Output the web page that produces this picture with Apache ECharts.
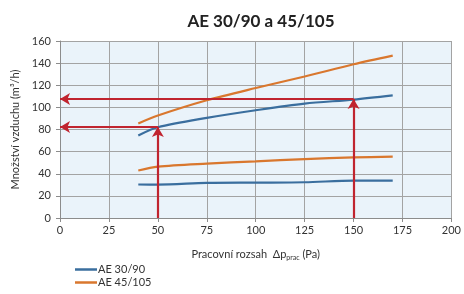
<!DOCTYPE html>
<html>
  <head>
    <meta charset="utf-8">
    <title>AE 30/90 a 45/105</title>
    <script src="https://cdn.jsdelivr.net/npm/echarts@6/dist/echarts.min.js"></script>
    <style type="text/css">
      html, body { margin: 0; padding: 0; background: #fff; }
      #main { width: 464px; height: 294px; }
    </style>
  </head>
  <body>
    <div id="main"></div>
    <script type="text/javascript">
      // tlaková diference (Pa)
      var pressure = [40, 50, 75, 100, 125, 150, 170];
      // AE 30/90 - max a min
      var ae3090_max = [74.6, 82, 90.5, 97.4, 103.4, 107, 110.8];
      var ae3090_min = [30.3, 30.2, 31.7, 32, 32.3, 33.8, 33.8];
      // AE 45/105 - max a min
      var ae45105_max = [85.4, 92.6, 106.4, 117.5, 127.9, 139, 146.8];
      var ae45105_min = [42.9, 46.4, 49.2, 51.2, 53.3, 54.8, 55.4];
      // červené šipky (odečet)
      var arrowX = [50, 150];
      var arrowY = [82.2, 107.5];

      var blue = '#3a6e9e', orange = '#d9772e', red = '#c0242f';
      var font = 'Lato';

      function pairs(xs, ys) {
        var out = [];
        for (var i = 0; i < xs.length; i++) out.push([xs[i], ys[i]]);
        return out;
      }

      var arrowLines = [];
      for (var k = 0; k < arrowX.length; k++) {
        arrowLines.push([{ coord: [arrowX[k], 0] }, { coord: [arrowX[k], arrowY[k]] }]);
        arrowLines.push([{ coord: [arrowX[k], arrowY[k]] }, { coord: [0, arrowY[k]] }]);
      }

      function curve(name, color, data) {
        return {
          name: name, type: 'line', smooth: 0.3, showSymbol: false,
          data: pairs(pressure, data),
          lineStyle: { color: color, width: 2.2 },
          itemStyle: { color: color },
          z: 3
        };
      }

      var myChart = echarts.init(document.getElementById('main'));
      var option = {
        animation: false,
        textStyle: { fontFamily: font },
        title: {
          text: 'AE 30/90 a 45/105',
          left: 256, top: 8, textAlign: 'center',
          textStyle: { fontSize: 17, fontWeight: 'bold', color: '#222', fontFamily: font }
        },
        legend: {
          data: ['AE 30/90', 'AE 45/105'],
          orient: 'vertical', left: 75, top: 264, padding: 0,
          icon: 'rect', itemWidth: 22, itemHeight: 2.5, itemGap: 2,
          textStyle: { fontSize: 11, color: '#333', padding: [0, 0, 0, -4] }
        },
        grid: { left: 60, right: 12, top: 41, bottom: 76, backgroundColor: '#eaf3fa', show: true, borderWidth: 0 },
        xAxis: {
          type: 'value', min: 0, max: 200, interval: 25,
          name: '{a|Pracovní rozsah  Δp}{s|prac}{a| (Pa)}',
          nameLocation: 'middle', nameGap: 30,
          nameTextStyle: {
            rich: {
              a: { fontSize: 11, color: '#333', fontFamily: font },
              s: { fontSize: 7, color: '#333', fontFamily: font, verticalAlign: 'bottom', padding: [6, 0, 0, 0] }
            }
          },
          axisLine: { show: true, lineStyle: { color: '#8c8c8c' } },
          axisTick: { show: true, length: 4, lineStyle: { color: '#8c8c8c' } },
          axisLabel: { fontSize: 11, color: '#333', margin: 7 },
          splitLine: { show: true, lineStyle: { color: '#a3a3a3', width: 1 } }
        },
        yAxis: {
          type: 'value', min: 0, max: 160, interval: 20,
          name: 'Množství vzduchu (m³/h)',
          nameLocation: 'middle', nameGap: 38, nameRotate: 90,
          nameTextStyle: { fontSize: 11, color: '#333' },
          axisLine: { show: true, lineStyle: { color: '#8c8c8c' } },
          axisTick: { show: true, length: 4, lineStyle: { color: '#8c8c8c' } },
          axisLabel: { fontSize: 11, color: '#333', margin: 9 },
          splitLine: { show: true, lineStyle: { color: '#a3a3a3', width: 1 } }
        },
        series: [
          curve('AE 30/90', blue, ae3090_max),
          curve('AE 30/90', blue, ae3090_min),
          curve('AE 45/105', orange, ae45105_max),
          curve('AE 45/105', orange, ae45105_min),
          {
            name: 'odecet', type: 'line', data: [], z: 4,
            markLine: {
              silent: true, animation: false,
              symbol: ['none', 'arrow'], symbolSize: [9, 10],
              label: { show: false },
              lineStyle: { color: red, width: 2.2, type: 'solid' },
              data: arrowLines
            }
          }
        ]
      };
      myChart.setOption(option);
    </script>
  </body>
</html>
